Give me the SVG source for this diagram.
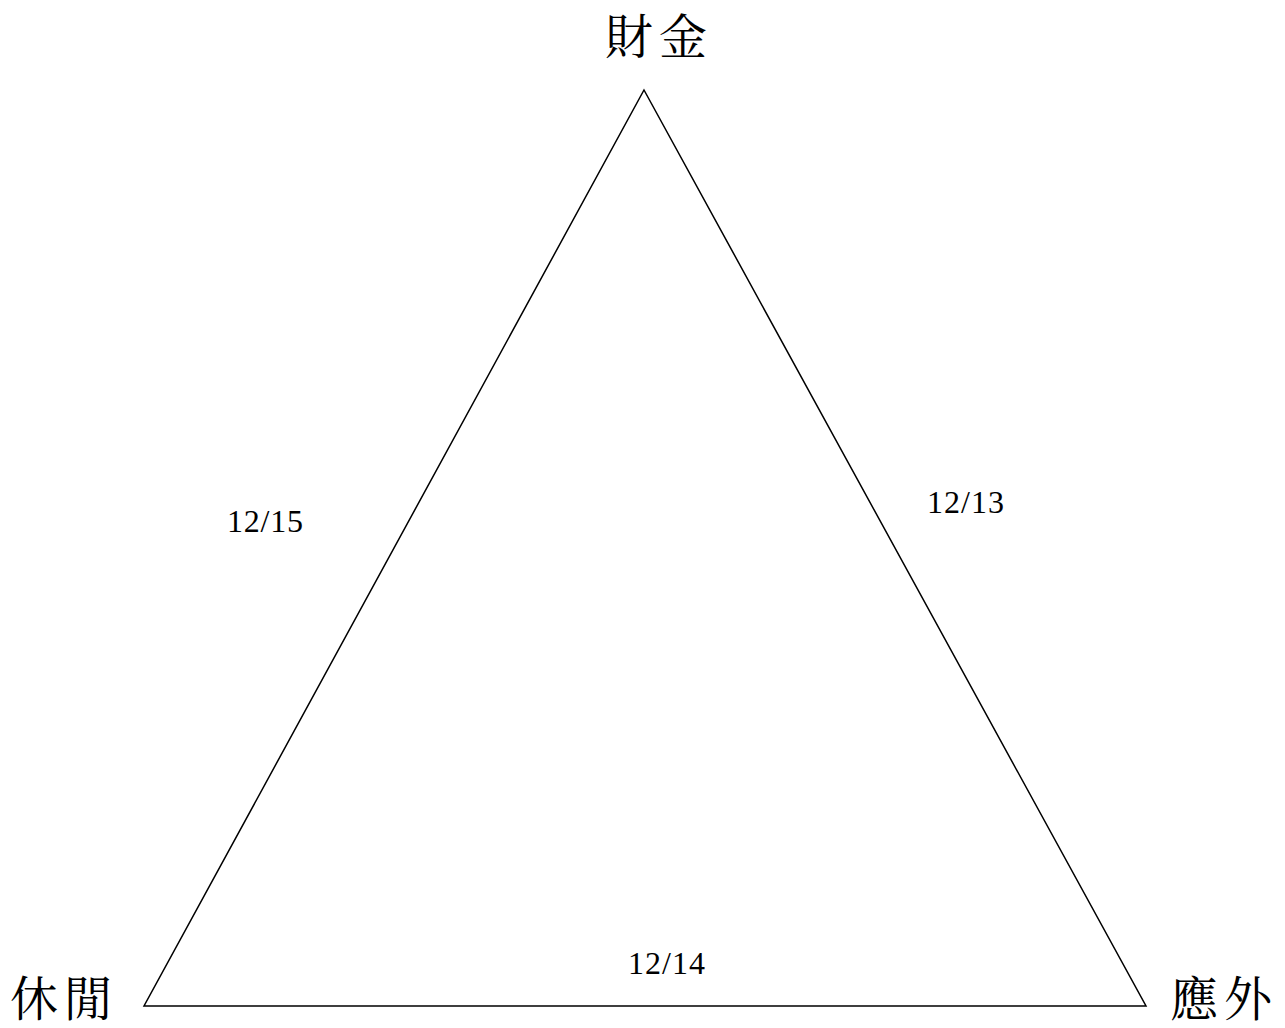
<svg xmlns="http://www.w3.org/2000/svg" width="1285" height="1028" viewBox="0 0 1285 1028">
<style>
.cjk{font-family:"Noto Serif CJK TC","Noto Sans CJK TC",sans-serif;font-size:48px;fill:#000;text-anchor:middle}
.num{font-family:"Liberation Serif",serif;font-size:32px;fill:#000}
.edge{fill:none;stroke:#000;stroke-width:1.5}
</style>
<rect width="1285" height="1028" fill="#fff"/>
<g id="connectors">
<polygon class="edge" points="644,90 1146,1006 144,1006"/>
</g>
<g id="node-caijin"><text class="cjk" x="659" y="54" letter-spacing="6">財金</text></g>
<g id="node-xiuxian"><text class="cjk" x="64" y="1016" letter-spacing="6">休閒</text></g>
<g id="node-yingwai"><text class="cjk" x="1224" y="1016" letter-spacing="6">應外</text></g>
<g id="label-1215"><text class="num" x="227" y="532" textLength="76">12/15</text></g>
<g id="label-1213"><text class="num" x="927" y="513" textLength="77">12/13</text></g>
<g id="label-1214"><text class="num" x="628" y="974" textLength="77">12/14</text></g>
</svg>
